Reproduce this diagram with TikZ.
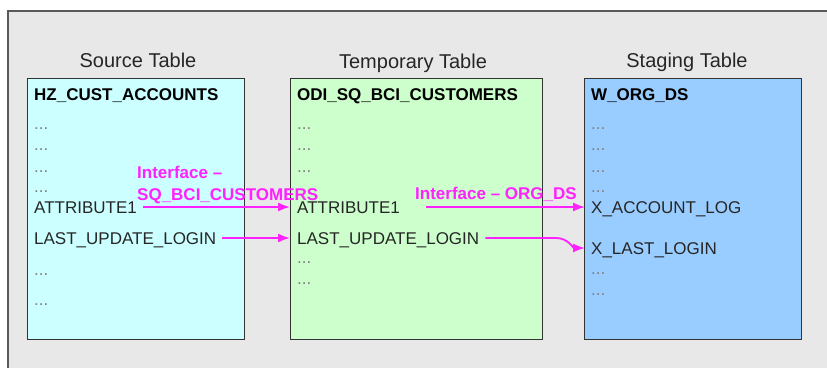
\documentclass[tikz,border=0pt]{standalone}
\usepackage{fontspec}
\setmainfont{Liberation Sans}
\usetikzlibrary{calc}
\usetikzlibrary{arrows.meta}

\definecolor{srccol}{HTML}{CCFFFF}
\definecolor{tmpcol}{HTML}{CCFFCC}
\definecolor{stgcol}{HTML}{99CCFF}
\definecolor{ifcol}{HTML}{FF22FF}

\begin{document}
\begin{tikzpicture}[x=1pt, y=-1pt, font=\fontsize{17}{20}\selectfont,
 tablebox/.style={draw=black!80, anchor=north west, inner sep=0, minimum height=261pt},
 title/.style={anchor=base, text=black!85, font=\fontsize{20}{24}\selectfont},
 row/.style={anchor=base west, inner xsep=6pt, inner ysep=0pt, text height=12pt, text depth=0pt, text=black!85},
 head/.style={row, text=black, font=\fontsize{17}{20}\selectfont\bfseries},
 dots/.style={row, text=black!50},
 ilabel/.style={anchor=base west, inner sep=0, text=ifcol, font=\fontsize{17}{20}\selectfont\bfseries},
 link/.style={draw=ifcol, line width=1.8pt, -{Latex[length=12pt, width=9pt]}}]
\useasboundingbox (0,0) rectangle (827,367);
\draw[draw=black!65, line width=1.2pt, fill=black!9] (8,11) rectangle (860,400);

% tables
\node[tablebox, fill=srccol, minimum width=217pt] (src) at (27,78) {};
\node[tablebox, fill=tmpcol, minimum width=252pt] (tmp) at (290,78) {};
\node[tablebox, fill=stgcol, minimum width=217pt] (stg) at (584,78) {};
\node[title] (srctitle) at (138,67) {Source Table};
\node[title] (tmptitle) at (413,68) {Temporary Table};
\node[title] (stgtitle) at (687,67) {Staging Table};

% source columns
\node[head] (srchead) at (28,100) {HZ\_CUST\_ACCOUNTS};
\foreach \y in {129,150,172,192,275,305}
 \node[dots] (srcdot\y) at (28,\y) {...};
\node[row] (srcattr) at (28,213) {ATTRIBUTE1};
\node[row] (srclast) at (28,244) {LAST\_UPDATE\_LOGIN};

% temporary columns
\node[head] (tmphead) at (291,100) {ODI\_SQ\_BCI\_CUSTOMERS};
\foreach \y in {129,150,172,263,284}
 \node[dots] (tmpdot\y) at (291,\y) {...};
\node[row] (tmpattr) at (291,213) {ATTRIBUTE1};
\node[row] (tmplast) at (291,244) {LAST\_UPDATE\_LOGIN};

% staging columns
\node[head] (stghead) at (585,100) {W\_ORG\_DS};
\foreach \y in {129,150,172,192,274,295}
 \node[dots] (stgdot\y) at (585,\y) {...};
\node[row] (stgacc) at (585,213) {X\_ACCOUNT\_LOG};
\node[row] (stglast) at (585,254) {X\_LAST\_LOGIN};

% interfaces
\coordinate (bend) at (556,0);
\draw[link] (srcattr.east) -- (srcattr.east -| tmp.west);
\draw[link] (srclast.east) -- (srclast.east -| tmp.west);
\draw[link] ([xshift=20pt]tmpattr.east) -- (stgacc.west);
\draw[link] (tmplast.east) -- (tmplast.east -| bend) to[out=0, in=180] (stglast.west);
\node[ilabel] (ifsqa) at (137,178) {Interface –};
\node[ilabel] (ifsqb) at (137,200) {SQ\_BCI\_CUSTOMERS};
\node[ilabel] (iforg) at (415,199) {Interface – ORG\_DS};
\end{tikzpicture}
\end{document}
